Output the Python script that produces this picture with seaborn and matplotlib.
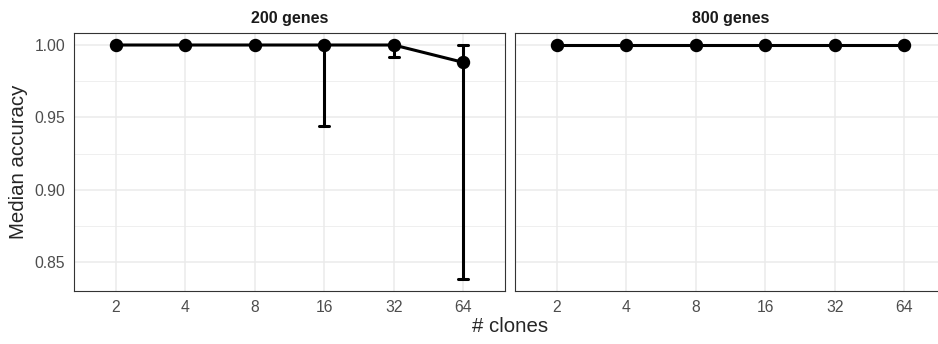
import pandas as pd
import matplotlib.pyplot as plt
import seaborn as sns
from matplotlib.ticker import MultipleLocator

clones = ["2", "4", "8", "16", "32", "64"]
panels = ["200 genes", "800 genes"]

median_200 = [1.0, 1.0, 1.0, 1.0, 1.0, 0.988]
lower_200 = [1.0, 1.0, 1.0, 0.944, 0.992, 0.838]
upper_200 = [1.0, 1.0, 1.0, 1.0, 1.0, 1.0]

median_800 = [1.0, 1.0, 1.0, 1.0, 1.0, 1.0]
lower_800 = [1.0, 1.0, 1.0, 1.0, 1.0, 1.0]
upper_800 = [1.0, 1.0, 1.0, 1.0, 1.0, 1.0]


def long_frame(med, lo, hi):
    rows = []
    for c, m, l, h in zip(clones, med, lo, hi):
        for v in (l, m, h):
            rows.append({"clones": c, "acc": v})
    return pd.DataFrame(rows)


def plot_panels():
    sns.set_theme(style="white")
    plt.rcParams["font.family"] = ["Liberation Sans", "DejaVu Sans"]

    fig = plt.figure(figsize=(9.38, 3.44), dpi=100)
    W, H = 938, 344
    top, bottom = 33, 291
    ax1 = fig.add_axes([74 / W, (H - bottom) / H, 431 / W, (bottom - top) / H])
    ax2 = fig.add_axes([515 / W, (H - bottom) / H, 431 / W, (bottom - top) / H])

    data = [
        (ax1, long_frame(median_200, lower_200, upper_200), panels[0]),
        (ax2, long_frame(median_800, lower_800, upper_800), panels[1]),
    ]

    for ax, df, title in data:
        sns.pointplot(
            data=df, x="clones", y="acc", order=clones,
            estimator="median", errorbar=lambda v: (v.min(), v.max()),
            color="black", capsize=0.14, markersize=8, linewidth=2.2,
            err_kws={"linewidth": 2.2}, ax=ax,
        )
        ax.set_xlim(-0.6, 5.6)
        ax.set_ylim(0.83, 1.0083)
        ax.yaxis.set_major_locator(MultipleLocator(0.05))
        ax.yaxis.set_minor_locator(MultipleLocator(0.025))
        ax.set_axisbelow(True)
        ax.grid(True, which="major", color="#EBEBEB", linewidth=1.1)
        ax.yaxis.grid(True, which="minor", color="#EBEBEB", linewidth=0.55)
        ax.xaxis.grid(True, which="major", color="#EBEBEB", linewidth=1.1)
        for s in ax.spines.values():
            s.set_visible(True)
            s.set_color("#333333")
            s.set_linewidth(0.8)
        ax.tick_params(axis="both", which="major", length=3.8, width=0.8,
                       color="#333333", labelcolor="#4D4D4D",
                       labelsize=11.3, pad=2.5)
        ax.tick_params(axis="y", which="minor", length=0)
        ax.set_xlabel("")
        ax.set_ylabel("")
        ax.set_title(title, fontsize=11.5, fontweight="bold",
                     color="#1A1A1A", pad=7)

    ax1.set_yticklabels(["%.2f" % t for t in ax1.get_yticks()])
    ax2.tick_params(axis="y", which="major", length=0, labelleft=False)

    fig.text(510 / W, 1 - 327 / H, "# clones", ha="center", va="center",
             fontsize=14.7)
    fig.text(18 / W, 1 - 162 / H, "Median accuracy", ha="center",
             va="center", rotation=90, fontsize=14.7)

    plt.savefig("out.png", dpi=100)


if __name__ == "__main__":
    plot_panels()
